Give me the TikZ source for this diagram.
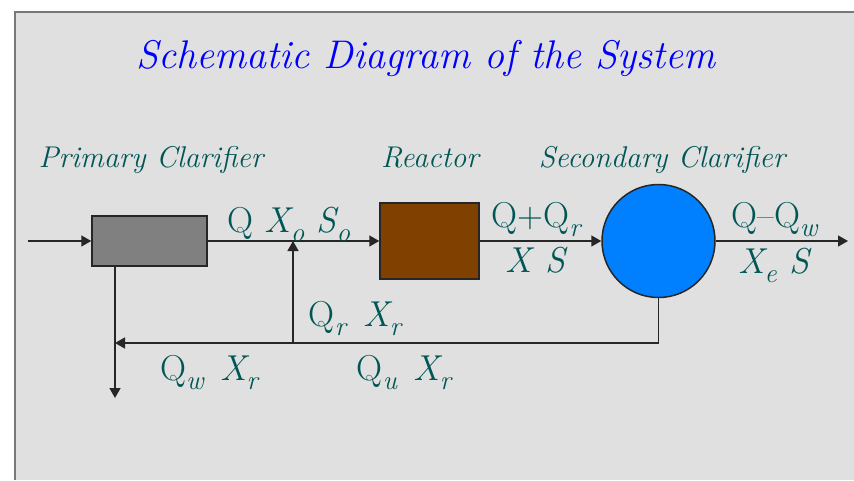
\documentclass[tikz,border=0pt]{standalone}
\usepackage{tikz}
\usetikzlibrary{arrows.meta, positioning, calc}
\definecolor{panelgray}{RGB}{224,224,224}
\definecolor{framegray}{RGB}{120,120,120}
\definecolor{titleblue}{RGB}{0,0,255}
\definecolor{tealink}{RGB}{0,85,85}
\definecolor{claygray}{RGB}{128,128,128}
\definecolor{reactbrown}{RGB}{128,64,0}
\definecolor{tankblue}{RGB}{0,128,255}
\newcommand{\subx}[1]{\raisebox{-9pt}{\fontsize{27}{27}\selectfont #1}}

\begin{document}
\begin{tikzpicture}[x=1pt, y=-1pt,
  unit/.style={draw=black!85, line width=1.5pt},
  arr/.style={-{Triangle[length=10pt, width=11pt]}, line width=1.5pt, black!85},
  head/.style={anchor=base, text=tealink, font=\fontsize{30}{32}\selectfont\itshape, inner sep=0pt},
  flow/.style={anchor=base, text=tealink, font=\fontsize{36}{38}\selectfont, inner sep=0pt}
]
  \useasboundingbox (0,0) rectangle (854,480);
  \fill[white] (0,0) rectangle (854,480);
  \fill[panelgray] (15,12) rectangle (854,480);
  \draw[framegray, line width=2pt] (15,480) -- (15,12) -- (854,12);

  \node[anchor=base, text=titleblue, font=\fontsize{40}{42}\selectfont\itshape] (title) at (426,68) {Schematic Diagram of the System};

  % unit headings
  \node[head] (pch) at (151,167) {Primary Clarifier};
  \node[head] (rh) at (430,167) {Reactor};
  \node[head] (sch) at (662,167) {Secondary Clarifier};

  % process units
  \node[unit, fill=claygray, minimum width=115pt, minimum height=50pt] (pc) at (149.5,241) {};
  \node[unit, fill=reactbrown, minimum width=99pt, minimum height=76pt] (reac) at (429.5,241) {};
  \node[unit, circle, fill=tankblue, minimum size=113pt, inner sep=0pt] (sc) at (658.5,241) {};

  \coordinate (feed) at (28,241);
  \coordinate (effl) at (848,241);
  \coordinate (tee) at (293,343);
  \coordinate (drop) at (115,343);
  \coordinate (sink) at (115,398);

  \draw[arr] (feed) -- (pc);
  \draw[arr] (pc) -- (reac);
  \draw[arr] (reac) -- (sc);
  \draw[arr] (sc) -- (effl);
  \draw[arr] (sc.south) |- (drop);
  \draw[arr] (tee) -- (tee |- pc.east);
  \draw[arr] (drop |- pc.south) -- (sink);

  % stream labels
  \node[flow] (qin) at (289,232) {Q \textit{X\subx{o}\ S\subx{o}}};
  \node[flow] (qmix) at (537,227) {Q+Q\subx{\textit{r}}};
  \node[flow] (xs) at (537,272) {\textit{X\hspace{14pt}S}};
  \node[flow] (qeff) at (775,227) {Q\textendash Q\subx{\textit{w}}};
  \node[flow] (xes) at (775,273) {\textit{X\subx{e}\ S}};
  \node[flow] (qrec) at (355,326) {Q\subx{\textit{r}}\hspace{16pt}\textit{X\subx{r}}};
  \node[flow] (qwas) at (209,380) {Q\subx{\textit{w}}\hspace{16pt}\textit{X\subx{r}}};
  \node[flow] (qund) at (404,380) {Q\subx{\textit{u}}\hspace{16pt}\textit{X\subx{r}}};
\end{tikzpicture}
\end{document}
